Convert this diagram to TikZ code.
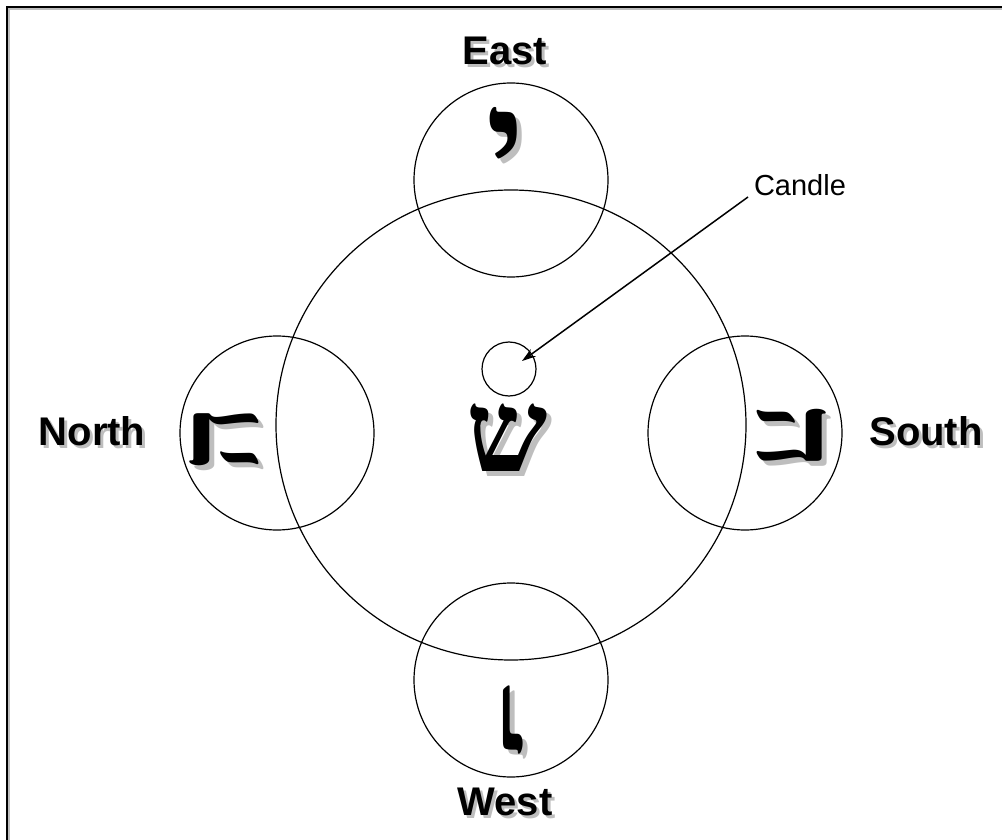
\documentclass[tikz,border=0pt]{standalone}
\usepackage{fontspec}
\setmainfont{Liberation Sans}
\newfontfamily\hebfont[Script=Hebrew]{Liberation Serif}
\usetikzlibrary{positioning, arrows.meta}
\TeXXeTstate=1
\definecolor{shadowgray}{RGB}{190, 190, 190}
% text with a grey copy behind it, shifted by #1 (right) and #2 (up)
\newcommand{\shadowed}[3]{\leavevmode\rlap{\kern#1\raisebox{#2}{\textcolor{shadowgray}{#3}}}#3}

\begin{document}
\begin{tikzpicture}[x=1pt, y=-1pt,
    ring/.style={circle, draw, line width=1.2pt, inner sep=0pt},
    dir/.style={font=\fontsize{40}{40}\selectfont\bfseries, inner sep=0pt},
    letter/.style={font=\hebfont\bfseries\fontsize{115}{115}\selectfont, inner sep=0pt},
    arrow/.style={-{Stealth[length=14pt, width=9pt]}, line width=1.5pt}
]
    \useasboundingbox (0,0) rectangle (1002,840);
    \clip (0,0) rectangle (1002,840);

    % frame
    \draw[shadowgray, line width=2pt] (9,9) rectangle (1020,860);
    \draw[line width=2pt] (7,7) rectangle (1020,860);

    % circles
    \node[ring, minimum size=470pt] (table) at (511,425) {};
    \node[ring, minimum size=194pt] (east) at (511,180) {};
    \node[ring, minimum size=194pt] (north) at (277,433) {};
    \node[ring, minimum size=194pt] (south) at (745,433) {};
    \node[ring, minimum size=194pt] (west) at (511,680) {};
    \node[ring, minimum size=54pt] (candle) at (509,369) {};

    % letters
    \node[letter] (shin) at (507,440) {\shadowed{5pt}{-5pt}{\beginR ש\endR}};
    \node[letter, font=\hebfont\bfseries\fontsize{145}{145}\selectfont] (yod) at (506,152) {\shadowed{5pt}{-5pt}{\beginR י\endR}};
    \node[letter, rotate=180] (vav) at (510,723) {\shadowed{-5pt}{5pt}{\beginR ו\endR}};
    \node[letter, rotate=90] (heleft) at (227,438) {\shadowed{-5pt}{-5pt}{\beginR ה\endR}};
    \node[letter, rotate=-90] (heright) at (794,437) {\shadowed{5pt}{5pt}{\beginR ה\endR}};

    % directions
    \node[dir] (eastlbl) at (505,52) {\shadowed{3pt}{-3pt}{East}};
    \node[dir] (northlbl) at (92,433) {\shadowed{3pt}{-3pt}{North}};
    \node[dir] (southlbl) at (926,433) {\shadowed{3pt}{-3pt}{South}};
    \node[dir] (westlbl) at (505,803) {\shadowed{3pt}{-3pt}{West}};

    % candle label
    \node[font=\fontsize{29}{29}\selectfont, inner sep=0pt] (candlelbl) at (800,185) {Candle};
    \coordinate (tail) at (748,197);
    \coordinate (flame) at (522,361);
    \draw[arrow] (tail) -- (flame);
\end{tikzpicture}
\end{document}
